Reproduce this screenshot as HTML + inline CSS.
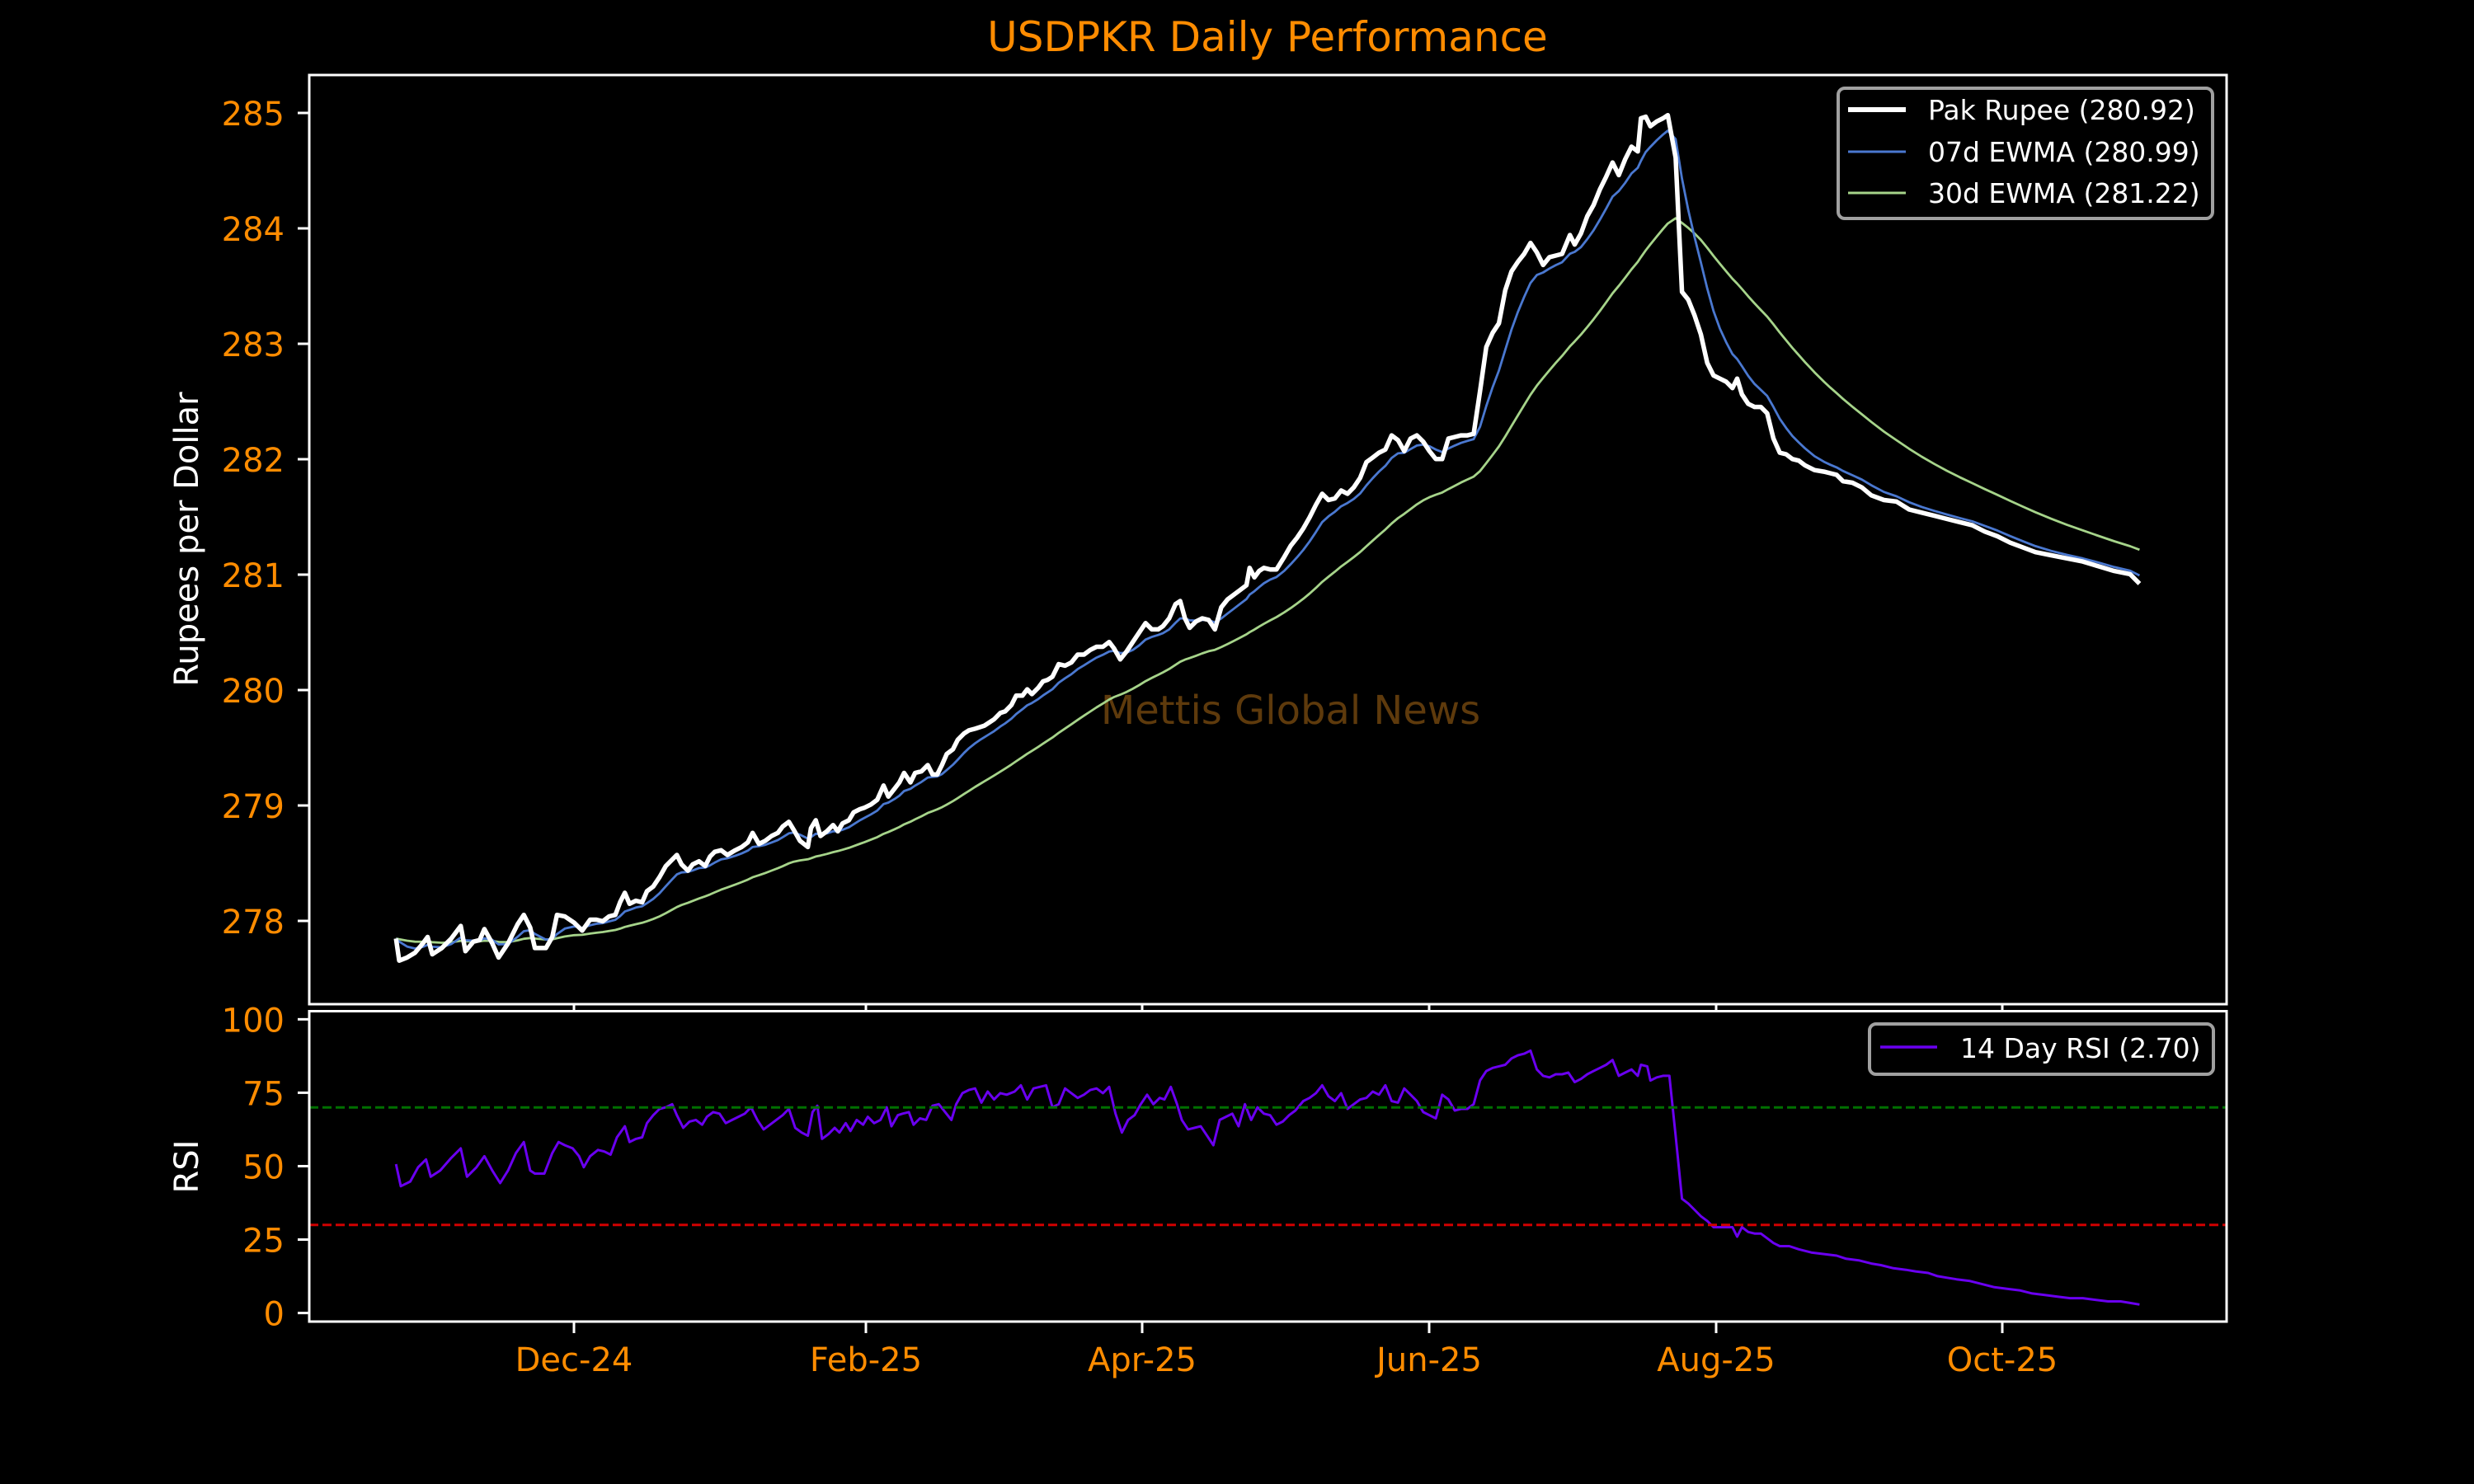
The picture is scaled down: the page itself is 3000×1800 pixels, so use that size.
<!DOCTYPE html>
<html><head><meta charset="utf-8"><style>
html,body{margin:0;padding:0;background:#000;}
svg{display:block;}
text{font-family:"DejaVu Sans","Liberation Sans",sans-serif;}
</style></head><body>
<svg id="s" width="3000" height="1800" viewBox="0 0 3000 1800" xmlns="http://www.w3.org/2000/svg">
<rect width="3000" height="1800" fill="#000"/>
<text x="1537" y="62" font-size="50" fill="#ff8c00" text-anchor="middle">USDPKR Daily Performance</text>
<text x="1565" y="878" font-size="48" fill="#5e3a0c" text-anchor="middle">Mettis Global News</text>
<g id="lines"></g>
<line x1="375" x2="2700" y1="1343.3" y2="1343.3" stroke="#007000" stroke-width="3" stroke-dasharray="11,5"/>
<line x1="375" x2="2700" y1="1485.8" y2="1485.8" stroke="#d00000" stroke-width="3" stroke-dasharray="11,5"/>
<rect x="375" y="91" width="2325" height="1127" fill="none" stroke="#fff" stroke-width="3"/>
<rect x="375" y="1226.5" width="2325" height="376.5" fill="none" stroke="#fff" stroke-width="3"/>
<g id="ticks" stroke="#fff" stroke-width="3"></g>
<g id="labels" font-size="40" fill="#ff8c00"></g>
<text transform="translate(240,654) rotate(-90)" font-size="40" fill="#fff" text-anchor="middle">Rupees per Dollar</text>
<text transform="translate(240,1415) rotate(-90)" font-size="40" fill="#fff" text-anchor="middle">RSI</text>
<rect x="2229" y="107" width="454" height="158" rx="8" fill="#000" stroke="#a0a0a0" stroke-width="4"/>
<line x1="2241" x2="2311" y1="133" y2="133" stroke="#fff" stroke-width="6"/>
<line x1="2241" x2="2311" y1="184" y2="184" stroke="#4a78d0" stroke-width="3"/>
<line x1="2241" x2="2311" y1="234" y2="234" stroke="#a6d48a" stroke-width="3"/>
<text x="2338" y="145" font-size="33" fill="#fff">Pak Rupee (280.92)</text>
<text x="2338" y="196" font-size="33" fill="#fff">07d EWMA (280.99)</text>
<text x="2338" y="246" font-size="33" fill="#fff">30d EWMA (281.22)</text>
<rect x="2267" y="1242" width="417" height="61" rx="8" fill="#000" stroke="#a0a0a0" stroke-width="4"/>
<line x1="2280" x2="2349" y1="1270" y2="1270" stroke="#6a00f0" stroke-width="3.5"/>
<text x="2377" y="1283" font-size="33" fill="#fff">14 Day RSI (2.70)</text>
</svg>
<script>
var K=1.9133;
var P=[[251,595],[253,609],[258,607],[263,604],[268,598],[271,594],[274,605],[280,601],[286,595],[292,587],[295,603],[300,597],[304,596],[307,589],[312,598],[316,607],[322,598],[328,586],[332,580],[336,588],[339,601],[346,601],[350,594],[353,580],[358,581],[364,585],[369,590],[374,583],[378,583],[382,584],[386,581],[390,580],[393,572],[396,566],[399,573],[403,571],[407,572],[410,565],[414,562],[418,556],[422,549],[426,545],[429,542],[432,548],[436,552],[439,548],[443,546],[447,549],[450,543],[453,540],[457,539],[461,542],[466,539],[470,537],[474,534],[477,528],[481,535],[485,533],[489,530],[493,528],[496,524],[500,521],[503,526],[507,533],[512,537],[514,525],[517,520],[520,530],[524,527],[528,523],[531,527],[534,522],[538,520],[541,515],[545,513],[548,512],[552,510],[556,507],[560,498],[563,505],[567,500],[570,496],[573,490],[577,496],[580,490],[584,489],[588,485],[591,491],[594,491],[597,485],[600,478],[604,475],[607,469],[611,465],[614,463],[618,462],[621,461],[624,460],[627,458],[630,456],[634,452],[637,451],[641,447],[644,441],[648,441],[651,437],[654,440],[658,436],[661,432],[664,431],[667,429],[671,421],[675,422],[679,420],[683,415],[687,415],[691,412],[695,410],[699,410],[703,407],[706,411],[710,418],[714,413],[718,407],[722,401],[726,395],[730,399],[734,399],[737,397],[741,392],[745,383],[748,381],[751,392],[754,398],[758,394],[762,392],[766,393],[770,399],[774,385],[778,380],[782,377],[786,374],[790,371],[792,360],[795,366],[798,362],[801,360],[805,361],[809,361],[814,353],[818,346],[822,341],[826,335],[830,328],[834,320],[838,313],[842,317],[846,316],[850,311],[854,313],[858,309],[862,303],[866,293],[870,290],[874,287],[878,285],[882,276],[886,279],[890,286],[894,278],[898,276],[902,280],[906,286],[910,291],[914,291],[918,278],[922,277],[926,276],[930,276],[934,275],[938,248],[942,220],[946,211],[950,205],[954,184],[958,172],[962,166],[966,161],[970,154],[974,160],[978,168],[982,163],[986,162],[990,161],[995,149],[998,155],[1002,148],[1006,137],[1010,130],[1014,120],[1018,112],[1022,103],[1026,111],[1030,101],[1034,93],[1038,96],[1040,75],[1043,74],[1046,80],[1050,77],[1054,75],[1057,73],[1062,100],[1066,185],[1070,190],[1074,200],[1078,212],[1082,230],[1086,238],[1090,240],[1094,242],[1098,246],[1101,240],[1104,250],[1108,256],[1112,258],[1116,258],[1120,262],[1124,278],[1128,287],[1132,288],[1136,291],[1140,292],[1144,295],[1150,298],[1156,299],[1160,300],[1164,301],[1168,305],[1174,306],[1180,309],[1186,314],[1194,317],[1202,318],[1210,323],[1218,325],[1226,327],[1234,329],[1242,331],[1250,333],[1258,337],[1266,340],[1274,344],[1282,347],[1290,350],[1300,352],[1310,354],[1320,356],[1330,359],[1340,362],[1350,364],[1356,370]];
var R=[[251,738],[254,752],[260,749],[265,740],[270,735],[273,746],[279,742],[286,734],[292,728],[296,746],[302,740],[307,733],[312,742],[317,750],[322,742],[327,731],[332,724],[336,742],[339,744],[345,744],[350,731],[354,724],[358,726],[363,728],[367,733],[370,740],[374,733],[379,729],[383,730],[387,732],[391,721],[396,714],[399,724],[403,722],[407,721],[410,712],[414,707],[418,703],[422,702],[426,700],[429,707],[433,715],[437,711],[441,710],[445,713],[448,708],[452,705],[456,706],[460,712],[464,710],[468,708],[472,706],[476,702],[480,710],[484,716],[488,713],[492,710],[496,707],[500,703],[504,715],[508,718],[512,720],[515,705],[518,701],[521,722],[525,719],[529,715],[532,718],[536,712],[539,717],[543,710],[547,713],[550,708],[554,712],[558,710],[562,702],[565,714],[569,707],[572,706],[576,705],[579,713],[583,709],[587,710],[591,701],[595,700],[599,705],[603,710],[606,700],[610,693],[614,691],[618,690],[622,699],[626,692],[630,697],[634,693],[638,694],[643,692],[647,688],[651,697],[655,690],[659,689],[663,688],[667,702],[671,700],[675,690],[679,693],[683,696],[687,694],[691,691],[695,690],[699,693],[703,689],[707,706],[711,718],[715,710],[719,707],[723,700],[727,694],[731,700],[735,696],[738,697],[742,689],[746,700],[749,710],[753,716],[757,715],[761,714],[765,720],[769,726],[773,710],[777,708],[781,706],[785,714],[789,700],[793,710],[797,702],[801,706],[805,707],[809,713],[813,711],[817,707],[821,704],[826,698],[830,696],[834,693],[838,688],[842,695],[846,698],[850,693],[854,703],[858,700],[862,697],[866,696],[870,692],[874,694],[878,688],[882,698],[886,699],[890,690],[894,694],[898,698],[902,705],[906,707],[910,709],[914,694],[918,697],[922,704],[926,703],[930,703],[934,700],[938,685],[942,679],[946,677],[950,676],[954,675],[958,671],[962,669],[966,668],[970,666],[974,678],[978,682],[982,683],[986,681],[990,681],[994,680],[998,686],[1002,684],[1006,681],[1010,679],[1014,677],[1018,675],[1022,672],[1026,682],[1030,680],[1034,678],[1038,682],[1040,675],[1044,676],[1046,685],[1050,683],[1054,682],[1058,682],[1062,720],[1066,760],[1070,763],[1074,767],[1078,771],[1082,774],[1086,778],[1090,778],[1094,778],[1098,778],[1101,784],[1104,778],[1108,781],[1112,782],[1116,782],[1120,785],[1124,788],[1128,790],[1134,790],[1140,792],[1148,794],[1156,795],[1164,796],[1170,798],[1178,799],[1186,801],[1192,802],[1200,804],[1208,805],[1214,806],[1222,807],[1228,809],[1234,810],[1240,811],[1248,812],[1256,814],[1264,816],[1272,817],[1280,818],[1288,820],[1296,821],[1304,822],[1312,823],[1320,823],[1328,824],[1336,825],[1344,825],[1350,826],[1356,827]];
function ew(a,ad){var o=[[a[0][0],a[0][1]]],v=a[0][1];for(var i=1;i<a.length;i++){var dx=a[i][0]-a[i-1][0];var al=1-Math.pow(1-ad,dx/2.98);v=v+al*(a[i][1]-v);o.push([a[i][0],v]);}return o;}
function pts(a){return a.map(function(p){return (p[0]*K).toFixed(1)+","+(p[1]*K).toFixed(1)}).join(" ");}
var NS="http://www.w3.org/2000/svg";
function pl(a,c,w,par){var e=document.createElementNS(NS,"polyline");e.setAttribute("points",pts(a));e.setAttribute("fill","none");e.setAttribute("stroke",c);e.setAttribute("stroke-width",w);e.setAttribute("stroke-linejoin","round");document.getElementById(par).appendChild(e);}
pl(ew(P,0.048),"#a6d48a",2.8,"lines");
pl(ew(P,0.2),"#4a78d0",2.8,"lines");
pl(P,"#ffffff",5.5,"lines");
pl(R,"#6a00f0",3,"lines");
var T=document.getElementById("ticks"),L=document.getElementById("labels");
function ln(x1,y1,x2,y2){var e=document.createElementNS(NS,"line");e.setAttribute("x1",x1);e.setAttribute("y1",y1);e.setAttribute("x2",x2);e.setAttribute("y2",y2);T.appendChild(e);}
function tx(x,y,s,anc){var e=document.createElementNS(NS,"text");e.setAttribute("x",x);e.setAttribute("y",y);e.setAttribute("text-anchor",anc);e.textContent=s;L.appendChild(e);}
for(var v=278;v<=285;v++){var y=137+(285-v)*140;ln(361,y,375,y);tx(345,y+15,""+v,"end");}
[0,25,50,75,100].forEach(function(v){var y=1592.6-3.5625*v;ln(361,y,375,y);tx(345,y+15,""+v,"end");});
[[696,"Dec-24"],[1050,"Feb-25"],[1385,"Apr-25"],[1733,"Jun-25"],[2081,"Aug-25"],[2428,"Oct-25"]].forEach(function(d){ln(d[0],1218,d[0],1226);ln(d[0],1603,d[0],1617);tx(d[0],1663,d[1],"middle");});
</script>
</body></html>
